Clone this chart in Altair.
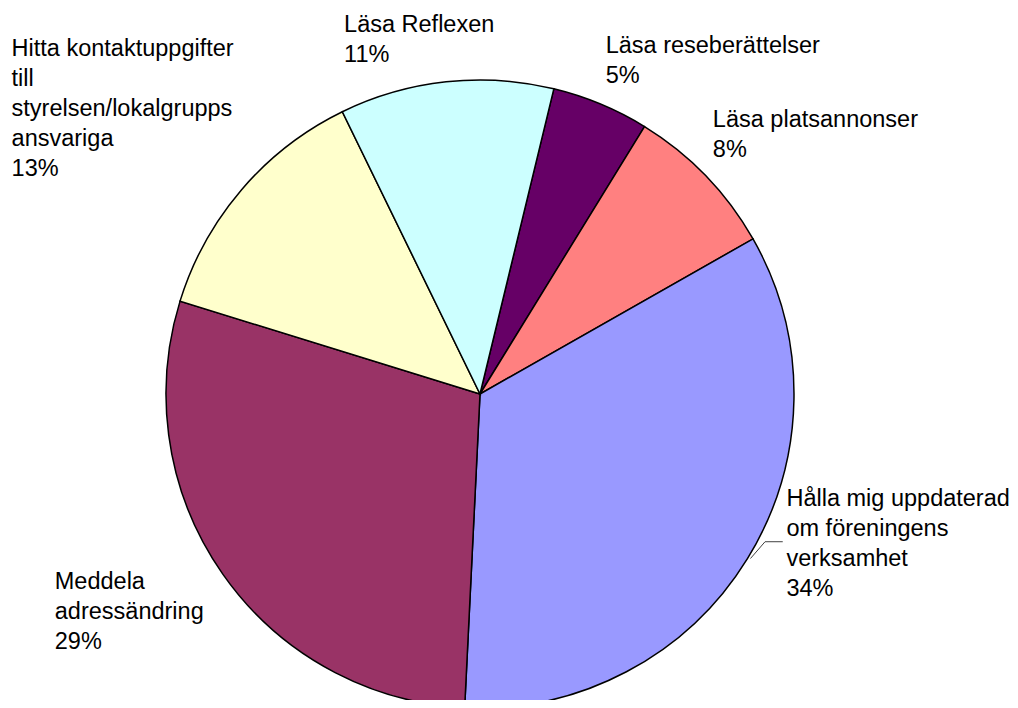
import math
import altair as alt
import pandas as pd

# ---- data ----
CATEGORIES = [
    "Läsa reseberättelser",
    "Läsa platsannonser",
    "Hålla mig uppdaterad om föreningens verksamhet",
    "Meddela adressändring",
    "Hitta kontaktuppgifter till styrelsen/lokalgrupps ansvariga",
    "Läsa Reflexen",
]
VALUES = [5, 8, 34, 29, 13, 11]
LABEL_LINES = [
    ["Läsa reseberättelser"],
    ["Läsa platsannonser"],
    ["Hålla mig uppdaterad", "om föreningens", "verksamhet"],
    ["Meddela", "adressändring"],
    ["Hitta kontaktuppgifter", "till", "styrelsen/lokalgrupps", "ansvariga"],
    ["Läsa Reflexen"],
]
COLORS = ["#660066", "#FF8080", "#9999FF", "#993366", "#FFFFCC", "#CCFFFF"]

# ---- layout ----
CX, CY, R = 472, 386, 314
START = math.radians(13.6)
LABEL_DX = [5, 7, 39, -168, -230, -102]
LABEL_DY = [-51, -49, -53, 15, -134, -50]

df = pd.DataFrame({
    "idx": list(range(len(CATEGORIES))),
    "category": CATEGORIES,
    "value": VALUES,
    "label": ["\n".join(l + [f"{v}%"]) for l, v in zip(LABEL_LINES, VALUES)],
    "ldx": LABEL_DX,
    "ldy": LABEL_DY,
})

base = alt.Chart(df)

pie = base.mark_arc(radius=R, stroke="black", strokeWidth=1.5).encode(
    theta=alt.Theta("value:Q", stack=True,
                    scale=alt.Scale(range=[START, START + 2 * math.pi])),
    color=alt.Color("category:N",
                    scale=alt.Scale(domain=CATEGORIES, range=COLORS),
                    legend=None),
    order=alt.Order("idx:Q", sort="ascending"),
    x=alt.value(CX),
    y=alt.value(CY),
)

pos = base.transform_window(
    cum="sum(value)",
    sort=[alt.SortField("idx", order="ascending")],
    frame=[None, 0],
).transform_joinaggregate(
    total="sum(value)"
).transform_calculate(
    mid=f"{START} + 2*PI*(datum.cum - datum.value/2)/datum.total"
).transform_calculate(
    ex=f"{CX} + {R}*sin(datum.mid)",
    ey=f"{CY} - {R}*cos(datum.mid)",
)

labels = pos.transform_calculate(
    lx="datum.ex + datum.ldx",
    ly="datum.ey + datum.ldy",
).mark_text(
    align="left", baseline="alphabetic", font="Liberation Sans",
    fontSize=23.5, lineHeight=30.2, lineBreak="\n", color="black",
).encode(
    x=alt.X("lx:Q", scale=None, axis=None),
    y=alt.Y("ly:Q", scale=None, axis=None),
    text="label:N",
)

leader = pos.transform_filter("datum.idx == 2").transform_calculate(
    x1="datum.ex + 3",
    y1="datum.ey",
    x2="datum.ex + 17.6",
    y2="datum.ey - 16.8",
    x3="datum.ex + 35.3",
)
seg1 = leader.mark_rule(color="#404040", strokeWidth=1).encode(
    x=alt.X("x1:Q", scale=None, axis=None),
    y=alt.Y("y1:Q", scale=None, axis=None),
    x2="x2:Q",
    y2="y2:Q",
)
seg2 = leader.mark_rule(color="#404040", strokeWidth=1).encode(
    x=alt.X("x2:Q", scale=None, axis=None),
    y=alt.Y("y2:Q", scale=None, axis=None),
    x2="x3:Q",
)

chart = alt.layer(pie, seg1, seg2, labels).properties(
    width=1002, height=692, padding=0, autosize="none",
    background="white",
).configure_view(stroke=None)

chart.save("out.html", embed_options={"renderer": "svg", "actions": False})
